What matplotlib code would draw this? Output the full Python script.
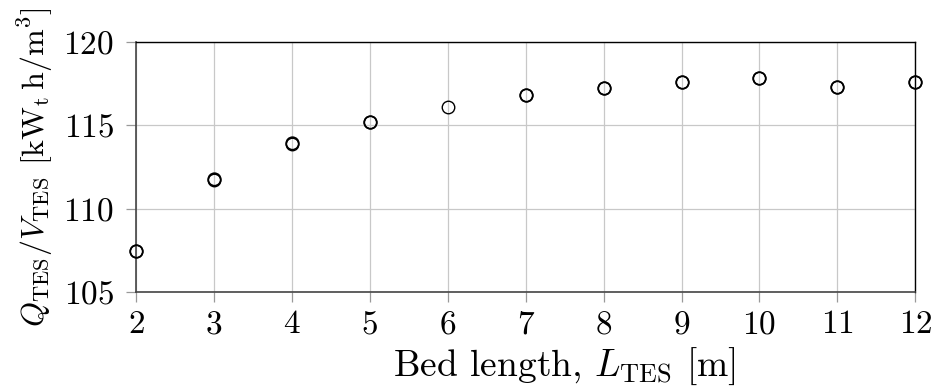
import numpy as np
import matplotlib
matplotlib.use('Agg')
import matplotlib.pyplot as plt

plt.rcParams['font.family'] = 'serif'
plt.rcParams['font.serif'] = ['cmr10']
plt.rcParams['mathtext.fontset'] = 'cm'
plt.rcParams['axes.unicode_minus'] = False
plt.rcParams['axes.formatter.use_mathtext'] = True

# bed length [m] and stored energy density [kWt h/m3]
bed_length = [2, 3, 4, 5, 6, 7, 8, 9, 10, 11, 12]
energy_density = [107.45, 111.75, 113.9, 115.2, 116.12, 116.8, 117.25, 117.62, 117.86, 117.32, 117.58]

# repeated runs that overlap the first set
bed_length_rep = [2, 3, 4, 5, 7, 8, 9, 10, 11, 12]
energy_density_rep = [107.48, 111.8, 113.93, 115.23, 116.8, 117.25, 117.62, 117.86, 117.32, 117.58]

fig = plt.figure(figsize=(9.33, 3.86), dpi=100)
ax = fig.add_axes([0.146, 0.2435, 0.835, 0.6475])

ax.plot(bed_length, energy_density, linestyle='none', marker='o', ms=9,
        mfc='none', mec='black', mew=1.0, clip_on=False, zorder=3)
ax.plot(bed_length_rep, energy_density_rep, linestyle='none', marker='o', ms=9,
        mfc='none', mec='black', mew=1.3, clip_on=False, zorder=3)

ax.set_xlim(2, 12)
ax.set_ylim(105, 120)
ax.set_xticks(np.arange(2, 13, 1))
ax.set_yticks([105, 110, 115, 120])
ax.grid(True, color='#c8c8c8', linewidth=0.9)
ax.set_axisbelow(True)

for side in ['top', 'right']:
    ax.spines[side].set_color('black')
    ax.spines[side].set_linewidth(1.0)
for side in ['left', 'bottom']:
    ax.spines[side].set_color('#444444')
    ax.spines[side].set_linewidth(1.2)

ax.tick_params(axis='both', direction='out', length=7, width=0.9, color='#999999',
               labelsize=24)
ax.tick_params(axis='x', pad=6)
ax.tick_params(axis='y', pad=9)

ax.set_xlabel(r'Bed length, $L_{\mathrm{TES}}$ [m]', fontsize=27)
ax.xaxis.set_label_coords(0.55, -0.215)
ax.set_ylabel(r'$Q_{\mathrm{TES}}/V_{\mathrm{TES}}$ [kW$_{\mathrm{t}}\,$h/m$^3$]', fontsize=23, labelpad=6)

fig.savefig('out.png', dpi=100)
